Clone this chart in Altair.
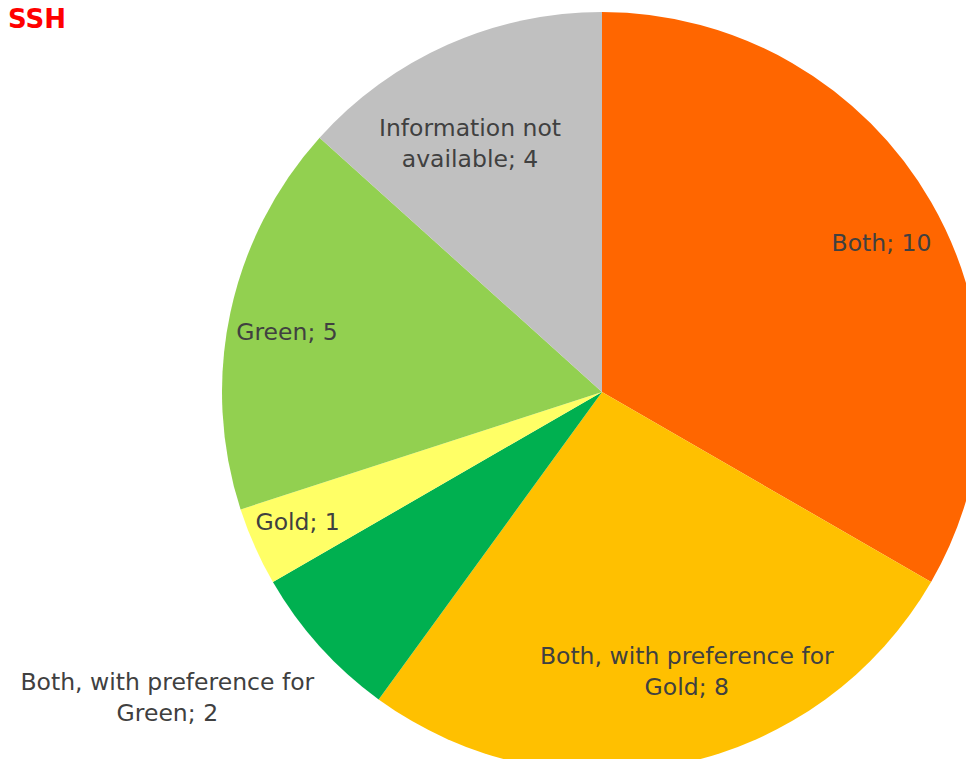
import altair as alt
import pandas as pd

categories = [
    "Both; 10",
    "Both, with preference for\nGold; 8",
    "Both, with preference for\nGreen; 2",
    "Gold; 1",
    "Green; 5",
    "Information not\navailable; 4",
]
values = [10, 8, 2, 1, 5, 4]
colors = ["#ff6600", "#ffc000", "#00b050", "#ffff66", "#92d050", "#c0c0c0"]

df = pd.DataFrame({"cat": categories, "value": values, "order": list(range(len(values)))})

W, H = 958, 751
CX, CY = 594, 384
R = 380

theta = alt.Theta("value:Q", stack=True)
order = alt.Order("order:Q", sort="ascending")

pie = alt.Chart(df).mark_arc(outerRadius=R, stroke=None).encode(
    theta=theta,
    order=order,
    color=alt.Color("cat:N", scale=alt.Scale(domain=categories, range=colors), legend=None),
    x=alt.value(CX),
    y=alt.value(CY),
)

# label placement styles (radius, dx, dy) per slice
label_style = [
    (317, 5, 10),
    (278, 27, -7),
    (523, -46, -59),
    (331, -2, -4),
    (320, -2, 8),
    (295, -12, 6),
]

layers = [pie]
for cat, (r, dx, dy) in zip(categories, label_style):
    layers.append(
        alt.Chart(df).mark_text(
            radius=r, dx=dx, dy=dy, fontSize=23.5, font="DejaVu Sans",
            color="#404040", lineBreak="\n", align="center", baseline="middle",
            lineHeight=31,
        ).encode(
            theta=theta,
            order=order,
            text="cat:N",
            x=alt.value(CX),
            y=alt.value(CY),
            opacity=alt.condition(alt.datum.cat == cat, alt.value(1), alt.value(0)),
        )
    )

title = alt.Chart(pd.DataFrame({"t": ["SSH"]})).mark_text(
    fontSize=26, font="DejaVu Sans", fontWeight="bold", color="#ff0000",
    align="left", baseline="alphabetic",
).encode(text="t:N", x=alt.value(0), y=alt.value(20))

chart = alt.layer(*layers, title).properties(
    width=W, height=H, autosize=alt.AutoSizeParams(type="none"), padding=0
).configure_view(stroke=None)

chart.save("out.html", embed_options={"renderer": "svg", "actions": False})
